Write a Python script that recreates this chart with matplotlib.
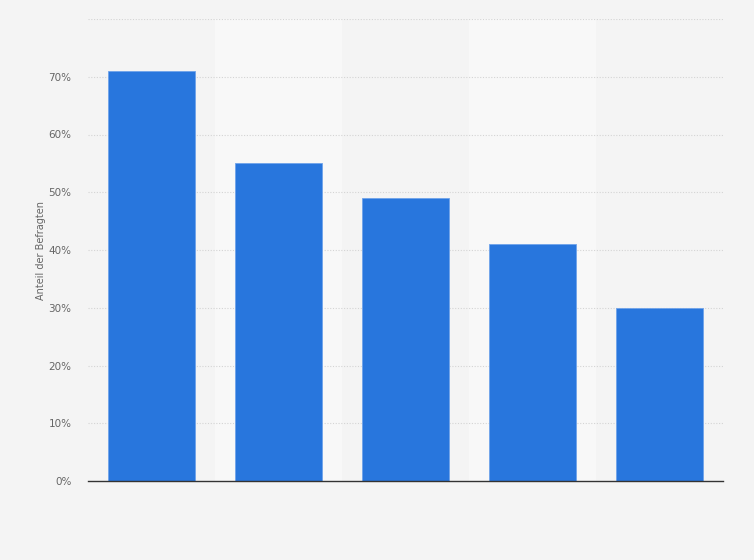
import matplotlib
matplotlib.use("Agg")
import matplotlib.pyplot as plt
import numpy as np

# survey shares, categories unlabeled in the reference
categories = ["A", "B", "C", "D", "E"]
shares = [71, 55, 49, 41, 30]
yticks = [0, 10, 20, 30, 40, 50, 60, 70]

BG = "#f4f4f4"
BAND = "#f8f8f8"
BLUE = "#2876dd"

fig = plt.figure(figsize=(7.54, 5.6), dpi=100, facecolor=BG)
ax = fig.add_axes([88 / 754, 79 / 560, 635 / 754, 462 / 560])
ax.set_facecolor(BG)

x = np.arange(len(categories))
for i in x:
    if i % 2 == 1:
        ax.axvspan(i - 0.5, i + 0.5, color=BAND, zorder=0, lw=0)

for y in yticks[1:] + [80]:
    ax.axhline(y, color="#d4d4d4", lw=0.8, ls=(0, (1, 1.5)), zorder=1)

ax.bar(x, shares, width=0.69, color=BLUE, edgecolor="#6fa3ea", linewidth=0.6, zorder=2)

ax.set_xlim(-0.5, len(categories) - 0.5)
ax.set_ylim(0, 80)
ax.set_yticks(yticks)
ax.set_yticklabels([f"{v}%" for v in yticks])
ax.set_xticks([])
ax.tick_params(axis="y", length=0, pad=12, labelsize=7.5, labelcolor="#666666")
for s in ["top", "right", "left"]:
    ax.spines[s].set_visible(False)
ax.spines["bottom"].set_color("#333333")
ax.spines["bottom"].set_linewidth(1.0)
ax.spines["bottom"].set_zorder(3)

ax.set_ylabel("Anteil der Befragten", fontsize=7, color="#666666", labelpad=2)

fig.savefig("out.png", dpi=100, facecolor=BG)
